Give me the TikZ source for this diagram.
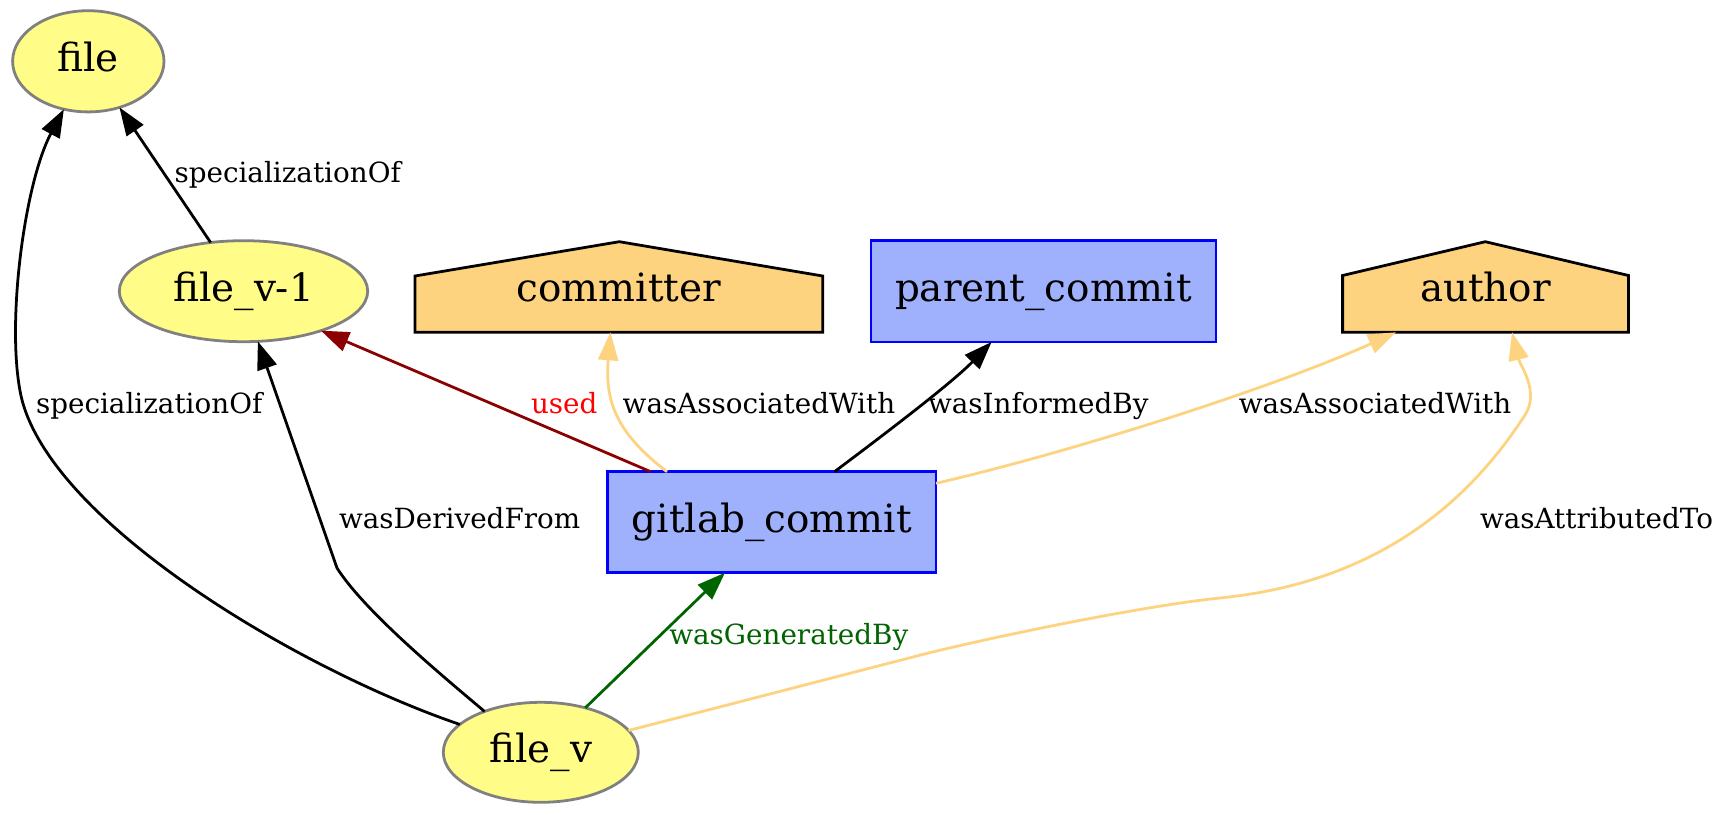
\documentclass[tikz,border=0pt]{standalone}
\usepackage{fontspec}
\setmainfont{DejaVu Serif}
\usetikzlibrary{arrows.meta,shapes.geometric}
\definecolor{entfill}{HTML}{FFFC87}
\definecolor{entdraw}{HTML}{808080}
\definecolor{actfill}{HTML}{9FB1FC}
\definecolor{actdraw}{HTML}{0000FF}
\definecolor{agfill}{HTML}{FED37F}
\definecolor{usedc}{HTML}{8B0000}
\definecolor{genc}{HTML}{006400}
\begin{document}
\begin{tikzpicture}[x=1pt,y=-1pt,
  every node/.style={outer sep=0pt, inner sep=0pt},
  nlabel/.style={font=\fontsize{38.9pt}{46pt}\selectfont, text height=28pt, text depth=7.2pt},
  entity/.style={nlabel, ellipse, draw=entdraw, fill=entfill, line width=2.78pt},
  activity/.style={nlabel, rectangle, draw=actdraw, fill=actfill, line width=2.78pt},
  agent/.style={nlabel, rectangle},
  house/.style={draw=black, fill=agfill, line width=2.78pt, line join=miter},
  elabel/.style={font=\fontsize{27.8pt}{33pt}\selectfont, anchor=base west},
  edge/.style={line width=2.78pt, -{Triangle[length=28pt,width=20pt]}},
]
\fill[white] (0,0) rectangle (1727,814);
\useasboundingbox (0,0) rectangle (1727,814);

% nodes
\node[entity, minimum width=151.4pt, minimum height=101.2pt] (file) at (88.3,61.3) {file};
\node[entity, minimum width=248.4pt, minimum height=101pt] (filev1) at (243.5,291.2) {file\_v-1};
\node[entity, minimum width=195pt, minimum height=100pt] (filev) at (540.8,752.3) {file\_v};
\node[activity, minimum width=328.7pt, minimum height=101pt] (gitlab) at (771.7,522.2) {gitlab\_commit};
\node[activity, minimum width=345pt, minimum height=101.3pt] (parent) at (1043.5,291.3) {parent\_commit};
\path[house] (415,332.3) -- (415,276) -- (619.3,241.7) -- (822.7,276) -- (822.7,332.3) -- cycle;
\node[agent, minimum width=407.7pt, minimum height=82pt] (committer) at (618.8,291.3) {committer};
\path[house] (1342.6,332.3) -- (1342.6,275.5) -- (1485.3,241.7) -- (1628.5,275.5) -- (1628.5,332.3) -- cycle;
\node[agent, minimum width=286pt, minimum height=82pt] (author) at (1485.5,291.3) {author};

% edges
\draw[edge] (filev1) -- (file);
\draw[edge] (filev.161.4) .. controls (300,670) and (55,525) .. (22,400) .. controls (5,331) and (23.7,184.4) .. (file.243.8);
\draw[edge] (filev.144.3) .. controls (445,678) and (365,612) .. (337,568) -- (filev1.286.5);
\draw[edge, color=usedc] ([xshift=-121pt]gitlab.north) -- (filev1.333.7);
\draw[edge, color=agfill] ([xshift=-104.7pt]gitlab.north) .. controls (615,432) and (605,400) .. ([xshift=-8.4pt]committer.south);
\draw[edge] ([xshift=62.8pt]gitlab.north) .. controls (870,445) and (950,385) .. ([xshift=-51.9pt]parent.south);
\draw[edge, color=agfill] ([yshift=38.9pt]gitlab.east) .. controls (1080,450) and (1280,385) .. ([xshift=-89.5pt]author.south);
\draw[edge, color=agfill] (filev.14) .. controls (720,707) and (870,668) .. (913,657) .. controls (973,641) and (1140,606) .. (1220,598) .. controls (1380,582) and (1470,500) .. (1525,415) .. controls (1540,392) and (1520,365) .. ([xshift=26.5pt]author.south);
\draw[edge, color=genc] (filev.45.9) -- ([xshift=-46.7pt]gitlab.south);

% edge labels
\node[elabel] (l1) at (174.5,182.7) {specializationOf};
\node[elabel] (l2) at (36,413) {specializationOf};
\node[elabel] (l3) at (339,528.3) {wasDerivedFrom};
\node[elabel, text=red] (l4) at (531,413) {used};
\node[elabel] (l5) at (622.7,413) {wasAssociatedWith};
\node[elabel] (l6) at (928,413) {wasInformedBy};
\node[elabel] (l7) at (1238.8,413) {wasAssociatedWith};
\node[elabel] (l8) at (1480,528.3) {wasAttributedTo};
\node[elabel, text=genc] (l9) at (669.3,644.3) {wasGeneratedBy};
\end{tikzpicture}
\end{document}
